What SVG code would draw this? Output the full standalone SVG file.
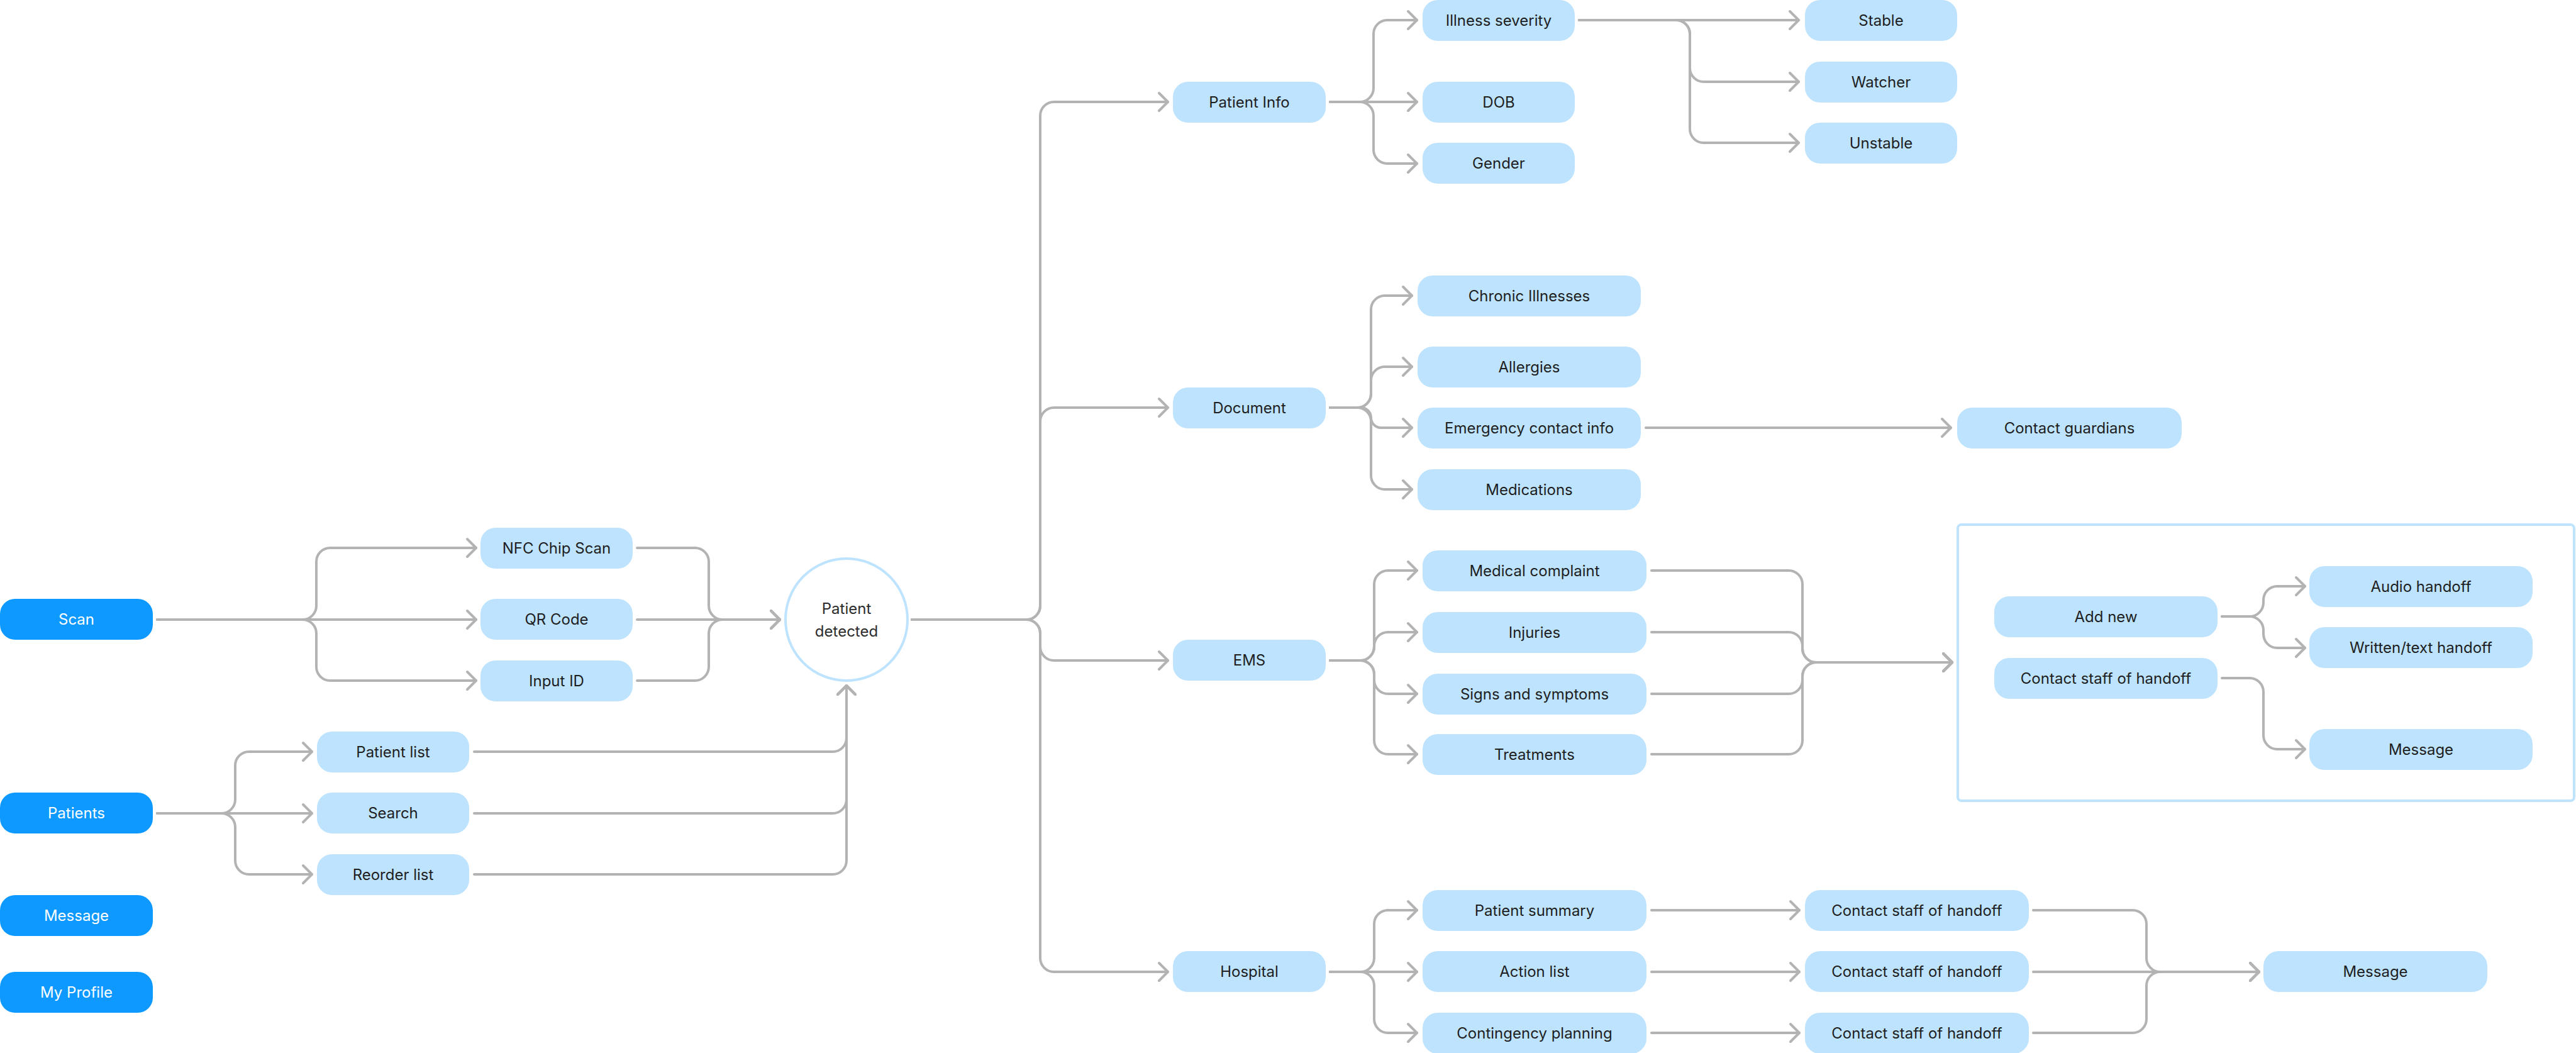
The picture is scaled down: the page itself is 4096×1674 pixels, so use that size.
<svg xmlns="http://www.w3.org/2000/svg" width="4096" height="1674" viewBox="0 0 4096 1674">
<style>
.bg{fill:#FFFFFF}
.n{fill:#0D99FF}
.l{fill:#BDE3FF}
.t{font-family:Inter,"Liberation Sans",Arial,sans-serif;font-size:24px;text-anchor:middle}
.tw{fill:#FFFFFF}
.td{fill:#1E1E1E}
.c{fill:none;stroke:#B3B3B3;stroke-width:4;stroke-linecap:round;stroke-linejoin:round;marker-end:url(#ah)}
.cn{fill:none;stroke:#B3B3B3;stroke-width:4;stroke-linecap:round;stroke-linejoin:round}
.frame{fill:none;stroke:#BDE3FF;stroke-width:4}
</style>
<defs>
<marker id="ah" viewBox="-20 -20 24 40" markerWidth="24" markerHeight="40" refX="0" refY="0" orient="auto" markerUnits="userSpaceOnUse">
<path d="M-14,-14 L0,0 L-14,14" fill="none" stroke="#B3B3B3" stroke-width="4" stroke-linecap="round" stroke-linejoin="round"/>
</marker>
</defs>
<rect class="bg" x="0" y="0" width="4096" height="1674"/>

<g id="connectors">
<path class="c" d="M250,985 H481 A22,22 0 0 0 503,963 V893 A22,22 0 0 1 525,871 H757"/>
<path class="c" d="M250,985 H757"/>
<path class="c" d="M250,985 H481 A22,22 0 0 1 503,1007 V1060 A22,22 0 0 0 525,1082 H757"/>

<path class="c" d="M1013,871 H1105 A22,22 0 0 1 1127,893 V963 A22,22 0 0 0 1149,985 H1240"/>
<path class="c" d="M1013,985 H1240"/>
<path class="c" d="M1013,1082 H1105 A22,22 0 0 0 1127,1060 V1007 A22,22 0 0 1 1149,985 H1240"/>

<path class="c" d="M250,1293 H352 A22,22 0 0 0 374,1271 V1217 A22,22 0 0 1 396,1195 H496"/>
<path class="c" d="M250,1293 H496"/>
<path class="c" d="M250,1293 H352 A22,22 0 0 1 374,1315 V1368 A22,22 0 0 0 396,1390 H496"/>

<path class="c" d="M754,1195 H1324 A22,22 0 0 0 1346,1173 V1090"/>
<path class="c" d="M754,1293 H1324 A22,22 0 0 0 1346,1271 V1090"/>
<path class="c" d="M754,1390 H1324 A22,22 0 0 0 1346,1368 V1090"/>

<path class="c" d="M1450,985 H1632 A22,22 0 0 0 1654,963 V184 A22,22 0 0 1 1676,162 H1857"/>
<path class="c" d="M1450,985 H1632 A22,22 0 0 0 1654,963 V670 A22,22 0 0 1 1676,648 H1857"/>
<path class="c" d="M1450,985 H1632 A22,22 0 0 1 1654,1007 V1028 A22,22 0 0 0 1676,1050 H1857"/>
<path class="c" d="M1450,985 H1632 A22,22 0 0 1 1654,1007 V1523 A22,22 0 0 0 1676,1545 H1857"/>

<path class="c" d="M2115,162 H2162 A22,22 0 0 0 2184,140 V54 A22,22 0 0 1 2206,32 H2253"/>
<path class="c" d="M2115,162 H2253"/>
<path class="c" d="M2115,162 H2162 A22,22 0 0 1 2184,184 V238 A22,22 0 0 0 2206,260 H2253"/>

<path class="c" d="M2511,32 H2860"/>
<path class="c" d="M2511,32 H2665 A22,22 0 0 1 2687,54 V108 A22,22 0 0 0 2709,130 H2860"/>
<path class="c" d="M2511,32 H2665 A22,22 0 0 1 2687,54 V205 A22,22 0 0 0 2709,227 H2860"/>

<path class="c" d="M2115,648 H2158 A22,22 0 0 0 2180,626 V492 A22,22 0 0 1 2202,470 H2245"/>
<path class="c" d="M2115,648 H2158 A22,22 0 0 0 2180,626 V605 A22,22 0 0 1 2202,583 H2245"/>
<path class="c" d="M2115,648 H2164 A16,16 0 0 1 2180,664 A16,16 0 0 0 2196,680 H2245"/>
<path class="c" d="M2115,648 H2158 A22,22 0 0 1 2180,670 V756 A22,22 0 0 0 2202,778 H2245"/>

<path class="c" d="M2617,680 H3102"/>

<path class="c" d="M2115,1050 H2163 A22,22 0 0 0 2185,1028 V929 A22,22 0 0 1 2207,907 H2253"/>
<path class="c" d="M2115,1050 H2163 A22,22 0 0 0 2185,1028 V1027 A22,22 0 0 1 2207,1005 H2253"/>
<path class="c" d="M2115,1050 H2163 A22,22 0 0 1 2185,1072 V1081 A22,22 0 0 0 2207,1103 H2253"/>
<path class="c" d="M2115,1050 H2163 A22,22 0 0 1 2185,1072 V1177 A22,22 0 0 0 2207,1199 H2253"/>

<path class="c" d="M2626,907 H2844 A22,22 0 0 1 2866,929 V1031 A22,22 0 0 0 2888,1053 H3104"/>
<path class="c" d="M2626,1005 H2844 A22,22 0 0 1 2866,1027 V1031 A22,22 0 0 0 2888,1053 H3104"/>
<path class="c" d="M2626,1103 H2844 A22,22 0 0 0 2866,1081 V1075 A22,22 0 0 1 2888,1053 H3104"/>
<path class="c" d="M2626,1199 H2844 A22,22 0 0 0 2866,1177 V1075 A22,22 0 0 1 2888,1053 H3104"/>

<path class="c" d="M3533,980 H3577 A22,22 0 0 0 3599,958 V954 A22,22 0 0 1 3621,932 H3665"/>
<path class="c" d="M3533,980 H3577 A22,22 0 0 1 3599,1002 V1008 A22,22 0 0 0 3621,1030 H3665"/>
<path class="c" d="M3533,1078 H3577 A22,22 0 0 1 3599,1100 V1169 A22,22 0 0 0 3621,1191 H3665"/>

<path class="c" d="M2115,1545 H2163 A22,22 0 0 0 2185,1523 V1469 A22,22 0 0 1 2207,1447 H2253"/>
<path class="c" d="M2115,1545 H2253"/>
<path class="c" d="M2115,1545 H2163 A22,22 0 0 1 2185,1567 V1620 A22,22 0 0 0 2207,1642 H2253"/>

<path class="c" d="M2626,1447 H2861"/>
<path class="c" d="M2626,1545 H2861"/>
<path class="c" d="M2626,1642 H2861"/>

<path class="c" d="M3233,1447 H3391 A22,22 0 0 1 3413,1469 V1523 A22,22 0 0 0 3435,1545 H3592"/>
<path class="c" d="M3233,1545 H3592"/>
<path class="c" d="M3233,1642 H3391 A22,22 0 0 0 3413,1620 V1567 A22,22 0 0 1 3435,1545 H3592"/>
</g>

<g id="handoff-frame"><rect class="frame" x="3113" y="834" width="980" height="439" rx="6"/></g>

<g id="scan"><rect class="n" x="0" y="952" width="243" height="65" rx="24"/><text class="t tw" x="121.5" y="993">Scan</text></g>
<g id="patients"><rect class="n" x="0" y="1260" width="243" height="65" rx="24"/><text class="t tw" x="121.5" y="1301">Patients</text></g>
<g id="message-nav"><rect class="n" x="0" y="1423" width="243" height="65" rx="24"/><text class="t tw" x="121.5" y="1464">Message</text></g>
<g id="my-profile"><rect class="n" x="0" y="1545" width="243" height="65" rx="24"/><text class="t tw" x="121.5" y="1586">My Profile</text></g>

<g id="nfc"><rect class="l" x="764" y="839" width="242" height="65" rx="24"/><text class="t td" x="885" y="880">NFC Chip Scan</text></g>
<g id="qr"><rect class="l" x="764" y="952" width="242" height="65" rx="24"/><text class="t td" x="885" y="993">QR Code</text></g>
<g id="input-id"><rect class="l" x="764" y="1050" width="242" height="65" rx="24"/><text class="t td" x="885" y="1091">Input ID</text></g>

<g id="patient-list"><rect class="l" x="504" y="1163" width="242" height="65" rx="24"/><text class="t td" x="625" y="1204">Patient list</text></g>
<g id="search"><rect class="l" x="504" y="1260" width="242" height="65" rx="24"/><text class="t td" x="625" y="1301">Search</text></g>
<g id="reorder-list"><rect class="l" x="504" y="1358" width="242" height="65" rx="24"/><text class="t td" x="625" y="1399">Reorder list</text></g>

<g id="patient-detected"><circle cx="1346" cy="985" r="97" fill="#FFFFFF" stroke="#BDE3FF" stroke-width="4"/><text class="t" fill="#2C2C2C" x="1346" y="976">Patient</text><text class="t" fill="#2C2C2C" x="1346" y="1012">detected</text></g>

<g id="patient-info"><rect class="l" x="1865" y="130" width="243" height="65" rx="24"/><text class="t td" x="1986.5" y="171">Patient Info</text></g>
<g id="document"><rect class="l" x="1865" y="616" width="243" height="65" rx="24"/><text class="t td" x="1986.5" y="657">Document</text></g>
<g id="ems"><rect class="l" x="1865" y="1017" width="243" height="65" rx="24"/><text class="t td" x="1986.5" y="1058">EMS</text></g>
<g id="hospital"><rect class="l" x="1865" y="1512" width="243" height="65" rx="24"/><text class="t td" x="1986.5" y="1553">Hospital</text></g>

<g id="illness-severity"><rect class="l" x="2262" y="0" width="242" height="65" rx="24"/><text class="t td" x="2383" y="41">Illness severity</text></g>
<g id="dob"><rect class="l" x="2262" y="130" width="242" height="65" rx="24"/><text class="t td" x="2383" y="171">DOB</text></g>
<g id="gender"><rect class="l" x="2262" y="227" width="242" height="65" rx="24"/><text class="t td" x="2383" y="268">Gender</text></g>

<g id="stable"><rect class="l" x="2870" y="0" width="242" height="65" rx="24"/><text class="t td" x="2991" y="41">Stable</text></g>
<g id="watcher"><rect class="l" x="2870" y="98" width="242" height="65" rx="24"/><text class="t td" x="2991" y="139">Watcher</text></g>
<g id="unstable"><rect class="l" x="2870" y="195" width="242" height="65" rx="24"/><text class="t td" x="2991" y="236">Unstable</text></g>

<g id="chronic-illnesses"><rect class="l" x="2254" y="438" width="355" height="65" rx="24"/><text class="t td" x="2431.5" y="479">Chronic Illnesses</text></g>
<g id="allergies"><rect class="l" x="2254" y="551" width="355" height="65" rx="24"/><text class="t td" x="2431.5" y="592">Allergies</text></g>
<g id="emergency-contact"><rect class="l" x="2254" y="648" width="355" height="65" rx="24"/><text class="t td" x="2431.5" y="689">Emergency contact info</text></g>
<g id="medications"><rect class="l" x="2254" y="746" width="355" height="65" rx="24"/><text class="t td" x="2431.5" y="787">Medications</text></g>

<g id="contact-guardians"><rect class="l" x="3112" y="648" width="357" height="65" rx="24"/><text class="t td" x="3290.5" y="689">Contact guardians</text></g>

<g id="medical-complaint"><rect class="l" x="2262" y="875" width="356" height="65" rx="24"/><text class="t td" x="2440" y="916">Medical complaint</text></g>
<g id="injuries"><rect class="l" x="2262" y="973" width="356" height="65" rx="24"/><text class="t td" x="2440" y="1014">Injuries</text></g>
<g id="signs-symptoms"><rect class="l" x="2262" y="1071" width="356" height="65" rx="24"/><text class="t td" x="2440" y="1112">Signs and symptoms</text></g>
<g id="treatments"><rect class="l" x="2262" y="1167" width="356" height="65" rx="24"/><text class="t td" x="2440" y="1208">Treatments</text></g>

<g id="add-new"><rect class="l" x="3171" y="948" width="355" height="65" rx="24"/><text class="t td" x="3348.5" y="989">Add new</text></g>
<g id="contact-staff-box"><rect class="l" x="3171" y="1046" width="355" height="65" rx="24"/><text class="t td" x="3348.5" y="1087">Contact staff of handoff</text></g>
<g id="audio-handoff"><rect class="l" x="3672" y="900" width="355" height="65" rx="24"/><text class="t td" x="3849.5" y="941">Audio handoff</text></g>
<g id="written-handoff"><rect class="l" x="3672" y="997" width="355" height="65" rx="24"/><text class="t td" x="3849.5" y="1038">Written/text handoff</text></g>
<g id="message-box"><rect class="l" x="3672" y="1159" width="355" height="65" rx="24"/><text class="t td" x="3849.5" y="1200">Message</text></g>

<g id="patient-summary"><rect class="l" x="2262" y="1415" width="356" height="65" rx="24"/><text class="t td" x="2440" y="1456">Patient summary</text></g>
<g id="action-list"><rect class="l" x="2262" y="1512" width="356" height="65" rx="24"/><text class="t td" x="2440" y="1553">Action list</text></g>
<g id="contingency-planning"><rect class="l" x="2262" y="1610" width="356" height="65" rx="24"/><text class="t td" x="2440" y="1651">Contingency planning</text></g>

<g id="contact-staff-1"><rect class="l" x="2870" y="1415" width="356" height="65" rx="24"/><text class="t td" x="3048" y="1456">Contact staff of handoff</text></g>
<g id="contact-staff-2"><rect class="l" x="2870" y="1512" width="356" height="65" rx="24"/><text class="t td" x="3048" y="1553">Contact staff of handoff</text></g>
<g id="contact-staff-3"><rect class="l" x="2870" y="1610" width="356" height="65" rx="24"/><text class="t td" x="3048" y="1651">Contact staff of handoff</text></g>

<g id="message-final"><rect class="l" x="3599" y="1512" width="356" height="65" rx="24"/><text class="t td" x="3777" y="1553">Message</text></g>
</svg>
